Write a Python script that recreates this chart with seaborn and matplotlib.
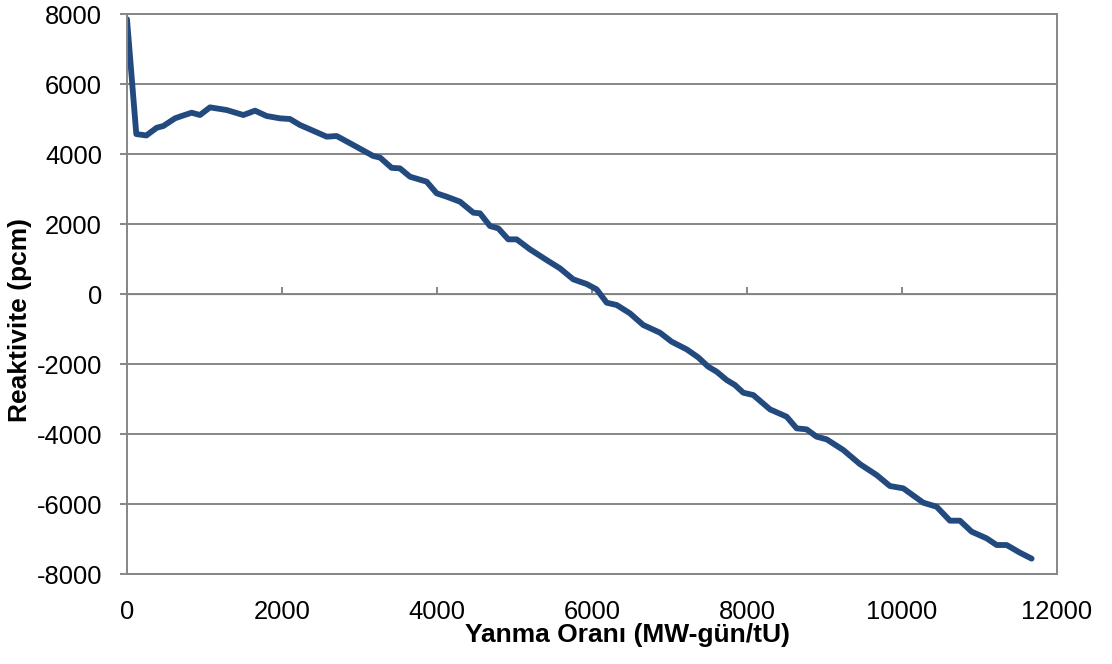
import matplotlib
matplotlib.use('Agg')
import matplotlib.pyplot as plt
import seaborn as sns
import pandas as pd

# Burnup (MW-gün/tU) vs reactivity (pcm)
burnup = [0, 120, 250, 383, 469, 619, 705, 834, 942, 1071, 1286, 1501, 1652, 1802,
          1974, 2103, 2232, 2361, 2577, 2706, 2920, 3178, 3264, 3415, 3522, 3652,
          3867, 3996, 4125, 4297, 4469, 4555, 4684, 4791, 4920, 5028, 5200, 5415,
          5587, 5759, 5931, 6060, 6190, 6319, 6490, 6662, 6877, 7028, 7222, 7371,
          7500, 7609, 7738, 7845, 7952, 8081, 8297, 8512, 8641, 8770, 8899, 9028,
          9243, 9458, 9673, 9845, 10017, 10275, 10447, 10619, 10748, 10899, 11093,
          11222, 11351, 11522, 11673]
reactivity = [7850, 4570, 4530, 4750, 4800, 5019, 5086, 5180, 5114, 5333, 5257, 5114,
              5238, 5086, 5019, 5000, 4829, 4705, 4495, 4514, 4257, 3943, 3900, 3605,
              3590, 3352, 3210, 2876, 2781, 2638, 2324, 2305, 1943, 1876, 1562, 1562,
              1276, 971, 733, 419, 286, 133, -248, -314, -552, -886, -1105, -1362,
              -1581, -1810, -2076, -2219, -2457, -2600, -2819, -2886, -3295, -3505,
              -3838, -3867, -4076, -4152, -4457, -4860, -5171, -5486, -5552, -5962,
              -6076, -6476, -6476, -6790, -6981, -7171, -7171, -7390, -7560]

x_ticks = [0, 2000, 4000, 6000, 8000, 10000, 12000]
y_ticks = [-8000, -6000, -4000, -2000, 0, 2000, 4000, 6000, 8000]

df = pd.DataFrame({'burnup': burnup, 'reactivity': reactivity})

sns.set_style('white')
plt.rcParams['font.family'] = ['Liberation Sans', 'DejaVu Sans']

gray = '#868686'
fig = plt.figure(figsize=(11.12, 6.64), dpi=100)
ax = fig.add_axes([0.1142, 0.1355, 0.8363, 0.8434])

sns.lineplot(data=df, x='burnup', y='reactivity', ax=ax, sort=False,
             color='#234A7E', linewidth=4.2, solid_joinstyle='round',
             solid_capstyle='round')

ax.set_xlim(0, 12000)
ax.set_ylim(-8000, 8000)
ax.set_xticks(x_ticks)
ax.set_yticks(y_ticks)
ax.set_xticklabels([str(v) for v in x_ticks])
ax.set_yticklabels([str(v) for v in y_ticks])

# grid and frame
ax.yaxis.grid(True, color=gray, linewidth=1.4)
ax.xaxis.grid(False)
for s in ax.spines.values():
    s.set_color(gray)
    s.set_linewidth(1.4)

ax.tick_params(axis='x', length=0, pad=19, labelsize=18.4, colors='black')
ax.tick_params(axis='y', direction='out', length=5, width=1.4, color=gray,
               pad=13, labelsize=18.4, labelcolor='black')
ax.yaxis.set_ticks_position('left')

# tick marks on the zero line (Excel style axis crossing)
sec = ax.secondary_xaxis(0.5)
sec.set_xticks(x_ticks)
sec.set_xticklabels([])
sec.tick_params(direction='out', length=5, width=1.4, color=gray)
sec.spines['bottom'].set_visible(False)

ax.set_xlabel('Yanma Oranı (MW-gün/tU)', fontsize=19, fontweight='bold', color='black')
ax.set_ylabel('Reaktivite (pcm)', fontsize=19, fontweight='bold', color='black')
ax.xaxis.set_label_coords(0.538, -0.088)
ax.yaxis.set_label_coords(-0.102, 0.454)

fig.savefig('out.png', dpi=100)
plt.close(fig)
